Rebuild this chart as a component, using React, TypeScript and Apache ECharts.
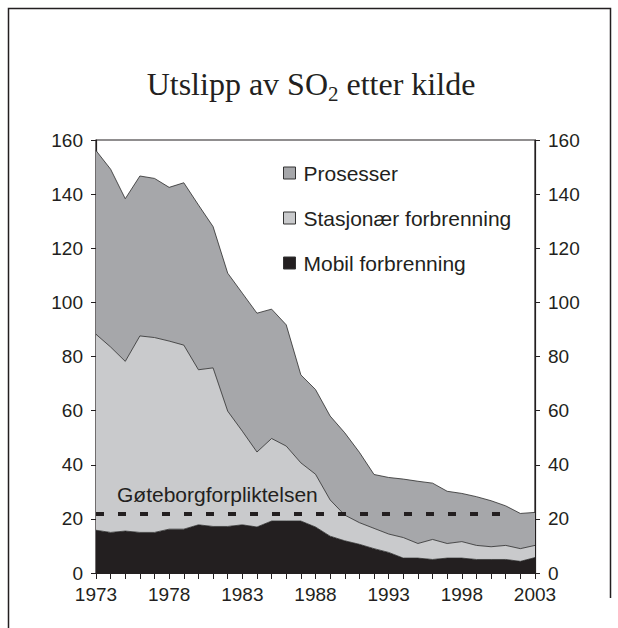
import React, { useEffect, useRef } from 'react';
import * as echarts from 'echarts';

const years = [
  '1973', '1974', '1975', '1976', '1977', '1978', '1979', '1980', '1981', '1982',
  '1983', '1984', '1985', '1986', '1987', '1988', '1989', '1990', '1991', '1992',
  '1993', '1994', '1995', '1996', '1997', '1998', '1999', '2000', '2001', '2002', '2003',
];

const mobil = [
  15.8, 15.0, 15.5, 15.0, 15.0, 16.2, 16.2, 17.8, 17.2, 17.2,
  17.8, 17.0, 19.2, 19.2, 19.2, 17.0, 13.6, 11.9, 10.6, 9.0,
  7.6, 5.5, 5.5, 5.0, 5.5, 5.5, 5.0, 5.0, 5.0, 4.3, 5.7,
];

const stasjonaer = [
  72.4, 68.5, 62.7, 72.6, 72.0, 69.5, 68.0, 57.3, 58.6, 42.6,
  34.6, 27.7, 30.5, 27.7, 21.5, 19.5, 13.4, 9.5, 8.0, 7.5,
  6.8, 7.6, 5.4, 7.4, 5.4, 6.1, 5.2, 4.7, 5.2, 4.7, 4.5,
];

const prosesser = [
  67.9, 65.7, 60.1, 59.1, 58.8, 56.8, 60.0, 60.9, 52.2, 51.0,
  51.0, 51.3, 47.8, 44.8, 32.5, 31.3, 31.0, 30.4, 26.0, 19.9,
  20.9, 21.6, 23.0, 20.8, 19.3, 17.8, 18.0, 17.0, 14.6, 13.0, 12.2,
];

const seriesNames = ['Prosesser', 'Stasjonær forbrenning', 'Mobil forbrenning'];
const titleParts = ['Utslipp av SO', '2', ' etter kilde'];
const yMin = 0;
const yMax = 160;
const yInterval = 20;
const targetValue = 22;
const targetStart = '1973';
const targetEnd = '2001';
const targetLabel = 'Gøteborgforpliktelsen';

const SANS = '"Liberation Sans", Arial, Helvetica, sans-serif';
const SERIF = '"Liberation Serif", "Times New Roman", serif';
const INK = '#231f20';
const C_PROS = '#a6a7aa';
const C_STAS = '#c9cacc';
const C_MOB = '#231f20';

const TITLE_SIZE = 32;
const SUB_SIZE = 21;
const TITLE_CENTER_X = 311;
const TITLE_BASELINE = 95;
const SUB_DROP = 6;

function measure(text: string, font: string): number {
  const c = document.createElement('canvas').getContext('2d');
  if (!c) return text.length * 14;
  c.font = font;
  return c.measureText(text).width;
}

export default function App() {
  const ref = useRef<HTMLDivElement>(null);

  useEffect(() => {
    if (!ref.current) return;
    const chart = echarts.init(ref.current, null, { renderer: 'svg' });

    const mainFont = `${TITLE_SIZE}px ${SERIF}`;
    const subFont = `${SUB_SIZE}px ${SERIF}`;
    const w0 = measure(titleParts[0], mainFont);
    const w1 = measure(titleParts[1], subFont);
    const w2 = measure(titleParts[2], mainFont);
    const x0 = TITLE_CENTER_X - (w0 + w1 + w2) / 2;
    const mainY = TITLE_BASELINE - 0.3375 * TITLE_SIZE;
    const subY = TITLE_BASELINE + SUB_DROP - 0.3375 * SUB_SIZE;

    const yAxisBase = (position: 'left' | 'right') => ({
      type: 'value',
      position,
      min: yMin,
      max: yMax,
      interval: yInterval,
      splitLine: { show: false },
      axisLine: { show: true, lineStyle: { color: INK, width: 1.2 } },
      axisTick: { show: true, inside: false, length: 5, lineStyle: { color: INK, width: 1 } },
      axisLabel: { color: INK, fontSize: 19, fontFamily: SANS, margin: 13 },
    });

    const areaSeries = (name: string, data: number[], fill: string) => ({
      name,
      type: 'line',
      stack: 'total',
      data,
      symbol: 'none',
      showSymbol: false,
      smooth: false,
      lineStyle: { color: '#2a2a2a', width: 0.8 },
      itemStyle: { color: fill },
      areaStyle: { color: fill, opacity: 1 },
      emphasis: { disabled: true },
    });

    chart.setOption({
      animation: false,
      backgroundColor: '#ffffff',
      grid: {
        left: 96,
        right: 83,
        top: 140,
        bottom: 55,
        show: true,
        borderColor: INK,
        borderWidth: 1.2,
        backgroundColor: 'transparent',
      },
      legend: {
        orient: 'vertical',
        left: 283,
        top: 162,
        padding: 0,
        itemWidth: 12,
        itemHeight: 12,
        itemGap: 23,
        icon: 'rect',
        selectedMode: false,
        data: seriesNames,
        itemStyle: { borderColor: '#333333', borderWidth: 1 },
        textStyle: { fontFamily: SANS, fontSize: 21, color: INK, lineHeight: 22, padding: [0, 0, 0, 3] },
      },
      xAxis: {
        type: 'category',
        data: years,
        boundaryGap: false,
        axisLine: { show: true, lineStyle: { color: INK, width: 1.2 } },
        axisTick: { show: true, interval: 0, inside: false, length: 6, lineStyle: { color: INK, width: 1 } },
        axisLabel: { interval: 4, color: INK, fontSize: 19, fontFamily: SANS, margin: 12 },
        splitLine: { show: false },
      },
      yAxis: [yAxisBase('left'), yAxisBase('right')],
      series: [
        areaSeries(seriesNames[2], mobil, C_MOB),
        areaSeries(seriesNames[1], stasjonaer, C_STAS),
        areaSeries(seriesNames[0], prosesser, C_PROS),
        {
          name: 'target',
          type: 'line',
          data: [],
          z: 5,
          markLine: {
            silent: true,
            symbol: ['none', 'none'],
            label: { show: false },
            lineStyle: { color: INK, width: 4, type: [8, 14] },
            emphasis: { disabled: true },
            data: [[{ coord: [targetStart, targetValue] }, { coord: [targetEnd, targetValue] }]],
          },
        },
      ],
      graphic: [
        {
          type: 'text',
          z: 100,
          silent: true,
          x: x0,
          y: mainY,
          style: { text: titleParts[0], font: mainFont, fill: INK, textAlign: 'left', textVerticalAlign: 'middle' },
        },
        {
          type: 'text',
          z: 100,
          silent: true,
          x: x0 + w0,
          y: subY,
          style: { text: titleParts[1], font: subFont, fill: INK, textAlign: 'left', textVerticalAlign: 'middle' },
        },
        {
          type: 'text',
          z: 100,
          silent: true,
          x: x0 + w0 + w1,
          y: mainY,
          style: { text: titleParts[2], font: mainFont, fill: INK, textAlign: 'left', textVerticalAlign: 'middle' },
        },
        {
          type: 'text',
          z: 100,
          silent: true,
          x: 117,
          y: 494,
          style: { text: targetLabel, font: `21px ${SANS}`, fill: INK, textAlign: 'left', textVerticalAlign: 'middle' },
        },
        {
          type: 'polyline',
          z: 100,
          silent: true,
          shape: { points: [[8.5, 628], [8.5, 8.5], [610.5, 8.5], [610.5, 598]] },
          style: { stroke: INK, lineWidth: 1.5, fill: null },
        },
      ],
    });

    return () => chart.dispose();
  }, []);

  return (
    <div
      ref={ref}
      style={{ position: 'fixed', left: 0, top: 0, width: 618, height: 628, background: '#fff' }}
    />
  );
}
